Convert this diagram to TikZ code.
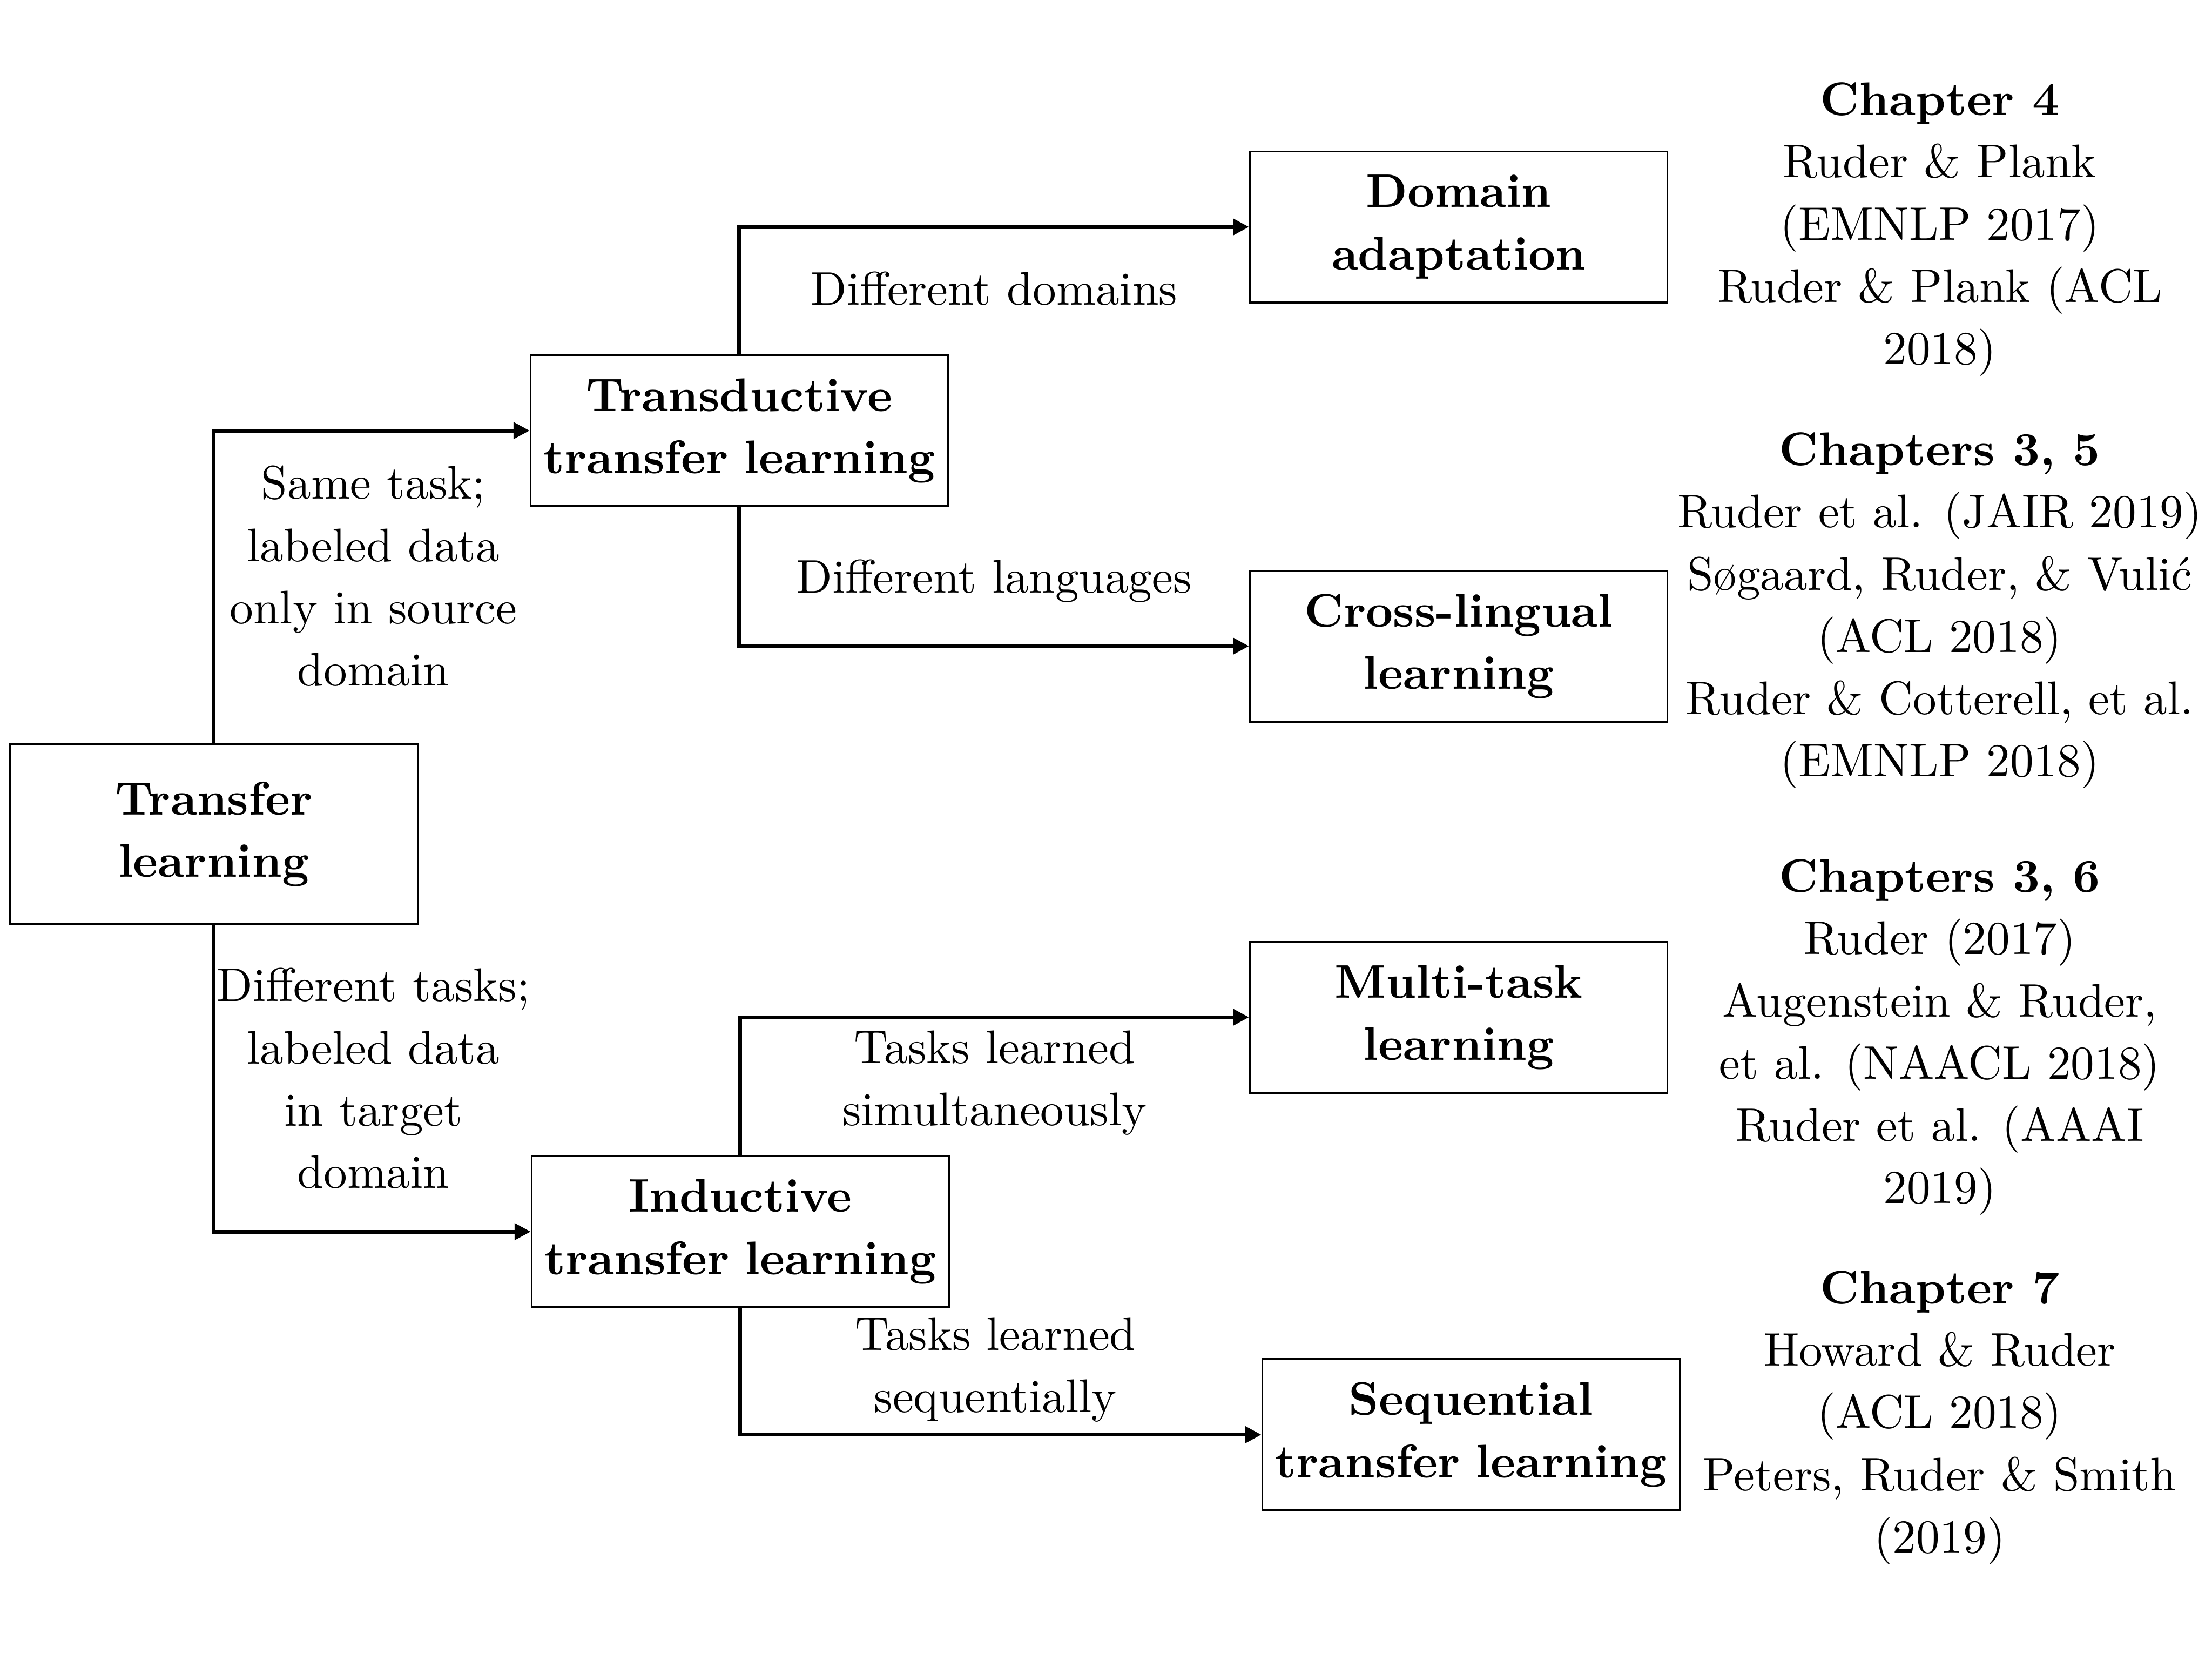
\documentclass[tikz,border=0pt]{standalone}
\usepackage{tikz}
\usetikzlibrary{arrows.meta}

\begin{document}
\begin{tikzpicture}[
  every node/.style={font=\fontsize{10}{13.2}\selectfont, align=center},
  box/.style={draw, thin, font=\fontsize{10}{13.2}\selectfont\bfseries, text width=2.95cm, minimum width=3.112cm, minimum height=1.125cm, inner sep=2pt},
  arr/.style={-{Triangle[length=3.4pt,width=3.4pt]}, thick},
]
\useasboundingbox (0,0) rectangle (16.49,-12.37);

% the tree of settings
\node[box, text width=2.9cm, minimum width=3.04cm, minimum height=1.345cm] (tl) at (1.594,-6.216) {Transfer\\learning};
\node[box] (trans) at (5.511,-3.209) {Transductive\\transfer learning};
\node[box] (induc) at (5.519,-9.179) {Inductive\\transfer learning};
\node[box] (domain) at (10.874,-1.691) {Domain\\adaptation};
\node[box] (cross) at (10.874,-4.815) {Cross-lingual\\learning};
\node[box] (multi) at (10.874,-7.581) {Multi-task\\learning};
\node[box] (seq) at (10.966,-10.692) {Sequential\\transfer learning};

\draw[arr] (tl.north) |- (trans.west) node[pos=0.25, xshift=1.19cm, yshift=0.08cm] {Same task;\\labeled data\\only in source\\domain};
\draw[arr] (tl.south) |- (induc.west) node[pos=0.25, xshift=1.19cm] {Different tasks;\\labeled data\\in target\\domain};
\draw[arr] (trans.north) |- (domain.west) node[pos=0.75, yshift=-0.46cm] {Different domains};
\draw[arr] (trans.south) |- (cross.west) node[pos=0.75, yshift=0.485cm] {Different languages};
\draw[arr] (induc.north) |- (multi.west) node[pos=0.75, yshift=-0.49cm] {Tasks learned\\simultaneously};
\draw[arr] (induc.south) |- (seq.west) node[pos=0.75, xshift=-0.04cm, yshift=0.485cm] {Tasks learned\\sequentially};

% chapters and papers
\node (ch4) at (14.46,-1.709) {\textbf{Chapter 4}\\Ruder \& Plank\\(EMNLP 2017)\\Ruder \& Plank (ACL\\2018)};
\node (ch35) at (14.46,-4.55) {\textbf{Chapters 3, 5}\\Ruder et al. (JAIR 2019)\\Søgaard, Ruder, \& Vulić\\(ACL 2018)\\Ruder \& Cotterell, et al.\\(EMNLP 2018)};
\node (ch36) at (14.46,-7.73) {\textbf{Chapters 3, 6}\\Ruder (2017)\\Augenstein \& Ruder,\\et al. (NAACL 2018)\\Ruder et al. (AAAI\\2019)};
\node (ch7) at (14.46,-10.565) {\textbf{Chapter 7}\\Howard \& Ruder\\(ACL 2018)\\Peters, Ruder \& Smith\\(2019)};
\end{tikzpicture}
\end{document}
